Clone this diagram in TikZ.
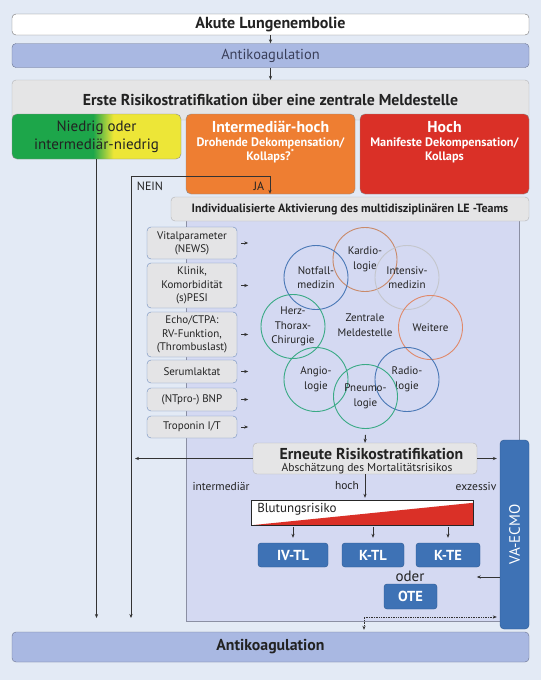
\documentclass[tikz,border=0pt]{standalone}
\usepackage{fontspec}
\setmainfont{PT Sans}
\usepackage{xcolor}
\usepackage{tikz}
\usetikzlibrary{shapes,positioning,calc,arrows.meta}

\definecolor{bgblue}{HTML}{E3EAF5}
\definecolor{antifill}{HTML}{A9B8E2}
\definecolor{antiline}{HTML}{6A7390}
\definecolor{antitext}{HTML}{3A3F5A}
\definecolor{greyfill}{HTML}{E5E5E6}
\definecolor{greyline}{HTML}{B3B3B6}
\definecolor{panelfill}{HTML}{D4D9F2}
\definecolor{panelline}{HTML}{8B8FA3}
\definecolor{lvgreen}{HTML}{1DA64A}
\definecolor{lvyellow}{HTML}{EDE637}
\definecolor{orng}{HTML}{EE7E32}
\definecolor{bred}{HTML}{DA3027}
\definecolor{thblue}{HTML}{3E72B5}
\definecolor{thline}{HTML}{2A5890}
\definecolor{infofill}{HTML}{E4E4E6}
\definecolor{infoline}{HTML}{6F8EC0}
\definecolor{txtdark}{HTML}{222222}
\definecolor{lineg}{HTML}{333333}
\definecolor{cKardio}{HTML}{C98A6A}
\definecolor{cIntens}{HTML}{C4C6CC}
\definecolor{cBlue}{HTML}{4A78B6}
\definecolor{cGreen}{HTML}{3AAA85}
\definecolor{cWeitere}{HTML}{E0896A}

\newcommand{\fsz}[2]{\fontsize{#1pt}{#2pt}\selectfont}

\pgfdeclarehorizontalshading{nidshade}{100bp}{color(0bp)=(lvgreen); color(49bp)=(lvgreen); color(55bp)=(lvyellow); color(100bp)=(lvyellow)}

\begin{document}
\begin{tikzpicture}[x=1pt, y=-1pt,
    box/.style={draw=greyline, rounded corners=4pt, minimum width=517pt, inner sep=0pt},
    riskbox/.style={draw=black!45, rounded corners=5pt, minimum width=169pt, inner sep=0pt},
    infobox/.style={draw=infoline, fill=infofill, rounded corners=4pt, minimum width=90pt, inner sep=0pt, align=center, text=txtdark, font=\fsz{11}{13.3}},
    therapy/.style={draw=thline, fill=thblue, rounded corners=3pt, inner sep=0pt, text=white, font=\bfseries\fsz{14.5}{16}, minimum height=24pt},
    disc/.style={circle, minimum size=64pt, inner sep=0pt, line width=0.9pt, align=center, font=\fsz{11}{14.5}, text=txtdark},
    lbl/.style={text=txtdark, font=\fsz{11.5}{14}},
    arr/.style={-{Stealth[length=4pt,width=3.2pt]}, draw=lineg, line width=0.7pt},
]
    % Background
    \useasboundingbox (0,0) rectangle (541,680);
    \fill[bgblue] (0,0) rectangle (541,680);

    % Top boxes
    \node[box, fill=white, draw=black!55, minimum height=21pt, text=txtdark, font=\bfseries\fsz{16}{18}] (akute) at (270.5,24.5) {Akute Lungenembolie};
    \node[box, fill=antifill, draw=antiline, minimum height=24pt, text=antitext, font=\fsz{14.5}{16}] (antiA) at (270.5,55.5) {Antikoagulation};
    \node[box, fill=greyfill, minimum height=40pt] (erste) at (270.5,100) {};
    \node[text=txtdark, font=\bfseries\fsz{15.8}{18}] (ersteTxt) at (270.5,99.5) {Erste Risikostratifikation über eine zentrale Meldestelle};
    \draw[arr] (akute) -- (antiA);
    \draw[arr] (antiA) -- (erste);

    % Risk classes
    \node[riskbox, shade, shading=nidshade, minimum height=45pt] (niedrig) at (96.5,136.5) {};
    \node[align=center, text=txtdark, font=\fsz{15}{18}] (niedrigTxt) at (96.5,137) {Niedrig oder\\intermediär-niedrig};
    \node[riskbox, fill=orng, minimum height=80pt] (intHoch) at (270.5,154) {};
    \node[text=white, font=\bfseries\fsz{15.8}{18}] (intHochTxt) at (270.5,127) {Intermediär-hoch};
    \node[text=white, align=center, font=\bfseries\fsz{12.3}{14}] (intHochSub) at (270.5,150) {Drohende Dekompensation/\\Kollaps?\textsuperscript{*}};
    \node[riskbox, fill=bred, minimum height=80pt] (hoch) at (444.5,154) {};
    \node[text=white, font=\bfseries\fsz{15.8}{18}] (hochTxt) at (444.5,127) {Hoch};
    \node[text=white, align=center, font=\bfseries\fsz{12.3}{14}] (hochSub) at (444.5,150) {Manifeste Dekompensation/\\Kollaps};

    % LE-Team panel
    \node[draw=panelline, fill=panelfill, minimum width=333pt, minimum height=409pt, inner sep=0pt] (panel) at (352.5,416.5) {};
    \node[box, fill=greyfill, minimum width=358pt, minimum height=24pt, text=txtdark, font=\bfseries\fsz{12}{14}] (lete) at (350,209) {Individualisierte Aktivierung des multidisziplinären LE -Teams};

    % JA / NEIN
    \coordinate (jaKnick) at (270,176);
    \coordinate (neinKnick) at (131,176);
    \draw[arr, shorten >=3pt] (jaKnick) -- (jaKnick |- lete.north);
    \draw[arr, shorten >=14pt] (jaKnick) -| (neinKnick |- 0,632);
    \draw[arr, shorten >=14pt] (niedrig.south) -- (niedrig.south |- 0,632);
    \node[lbl, font=\fsz{12}{14}] (neinTxt) at (150,186) {NEIN};
    \node[lbl, font=\fsz{12}{14}] (jaTxt) at (259,186) {JA};

    % Parameters
    \foreach \name/\y/\h/\txt in {vital/243/32/{Vitalparameter\\(NEWS)}, klinik/285.5/45/{Klinik,\\Komorbidität\\(s)PESI}, echo/334.5/45/{Echo/CTPA:\\RV-Funktion,\\(Thrombuslast)}, serum/371.5/23/{Serumlaktat}, ntpro/399.5/23/{(NTpro-) BNP}, tropo/427/22/{Troponin I/T}} {
        \node[infobox, minimum height=\h pt] (\name) at (192,\y) {\txt};
        \draw[arr] ([xshift=4pt]\name.east) -- ++(7,0);
    }

    % Disciplines
    \foreach \name/\x/\y/\col/\txt in {kardio/365/259.5/cKardio/{Kardio-\\logie}, intens/407/277.5/cIntens/{Intensiv-\\medizin}, notfall/316/277.5/cBlue/{Notfall-\\medizin}, herz/293/326.5/cGreen/{Herz-\\Thorax-\\Chirurgie}, weitere/430.5/327.5/cWeitere/{Weitere}, angio/316/379.5/cGreen/{Angio-\\logie}, radio/407/379.5/cBlue/{Radio-\\logie}, pneumo/365.5/396.5/cGreen/{Pneumo-\\logie}} {
        \node[disc, draw=\col] (\name) at (\x,\y) {\txt};
    }
    \node[align=center, text=txtdark, font=\fsz{11}{14.5}] (zentrale) at (365,325) {Zentrale\\Meldestelle};

    % Re-stratification
    \node[draw=greyline, fill=greyfill, rounded corners=4pt, minimum width=224pt, minimum height=31pt, inner sep=0pt] (erneute) at (365,458.5) {};
    \node[text=txtdark, font=\bfseries\fsz{15.8}{17}] (erneuteTxt) at (371.5,453.5) {Erneute Risikostratifikation};
    \node[text=txtdark, font=\fsz{11.5}{13}] (erneuteSub) at (367,468.5) {Abschätzung des Mortalitätsrisikos};
    \draw[arr, line width=1pt] ([yshift=-6pt]pneumo.south) -- (erneute.north);

    \node[therapy, minimum width=29pt, minimum height=189pt, rounded corners=4pt] (vaecmo) at (514.5,534.5) {};
    \node[rotate=90, text=white, font=\fsz{15}{16}] (vaecmoTxt) at (vaecmo) {VA-ECMO};

    \draw[arr, shorten >=4pt] (erneute.west) -- (erneute.west -| neinKnick);
    \draw[arr, shorten >=3pt] (erneute.east) -- (erneute.east -| vaecmo.west);
    \node[lbl] (lblInter) at (221,486) {intermediär};
    \node[lbl] (lblHoch) at (347,486) {hoch};
    \node[lbl] (lblExz) at (476,486) {exzessiv};

    % Bleeding risk
    \node[fill=white, minimum width=221pt, minimum height=24pt, inner sep=0pt] (blut) at (362.5,513) {};
    \fill[bred] (blut.south west) -- (blut.south east) -- ([yshift=-2pt]blut.north east) -- cycle;
    \draw[black!85, line width=0.8pt] (blut.south west) rectangle (blut.north east);
    \node[anchor=west, text=txtdark, font=\fsz{13}{14}] (blutTxt) at ([xshift=2pt,yshift=4pt]blut.west) {Blutungsrisiko};
    \draw[arr, shorten >=3pt] (erneute.south) -- (erneute.south |- blut.north);

    % Therapies
    \node[therapy, minimum width=70pt] (ivtl) at (293,555) {IV-TL};
    \node[therapy, minimum width=62pt] (ktl) at (373,555) {K-TL};
    \node[therapy, minimum width=64pt] (kte) at (448,555) {K-TE};
    \node[lbl, font=\fsz{15}{16}] (oder) at (410,576) {oder};
    \node[therapy, minimum width=53pt, minimum height=25pt] (ote) at (410.5,596.5) {OTE};
    \foreach \t in {ivtl,ktl,kte}
        \draw[arr, shorten <=2pt, shorten >=5pt] (\t.north |- blut.south) -- (\t.north);
    \draw[arr] ([yshift=-42.5pt]vaecmo.west) -- ++(-23,0);

    % Bottom
    \node[box, fill=antifill, draw=antiline, minimum height=30pt, text=txtdark, font=\bfseries\fsz{15.8}{18}] (antiB) at (270.5,647) {Antikoagulation};
    \coordinate (dotKnick) at (364,617);
    \draw[{Stealth[length=4pt,width=3.2pt]}-{Stealth[length=4pt,width=3.2pt]}, draw=lineg, line width=0.7pt, densely dotted, shorten <=2pt, shorten >=3pt] (dotKnick |- antiB.north) -- (dotKnick) -- (dotKnick -| vaecmo.west);

\end{tikzpicture}
\end{document}
